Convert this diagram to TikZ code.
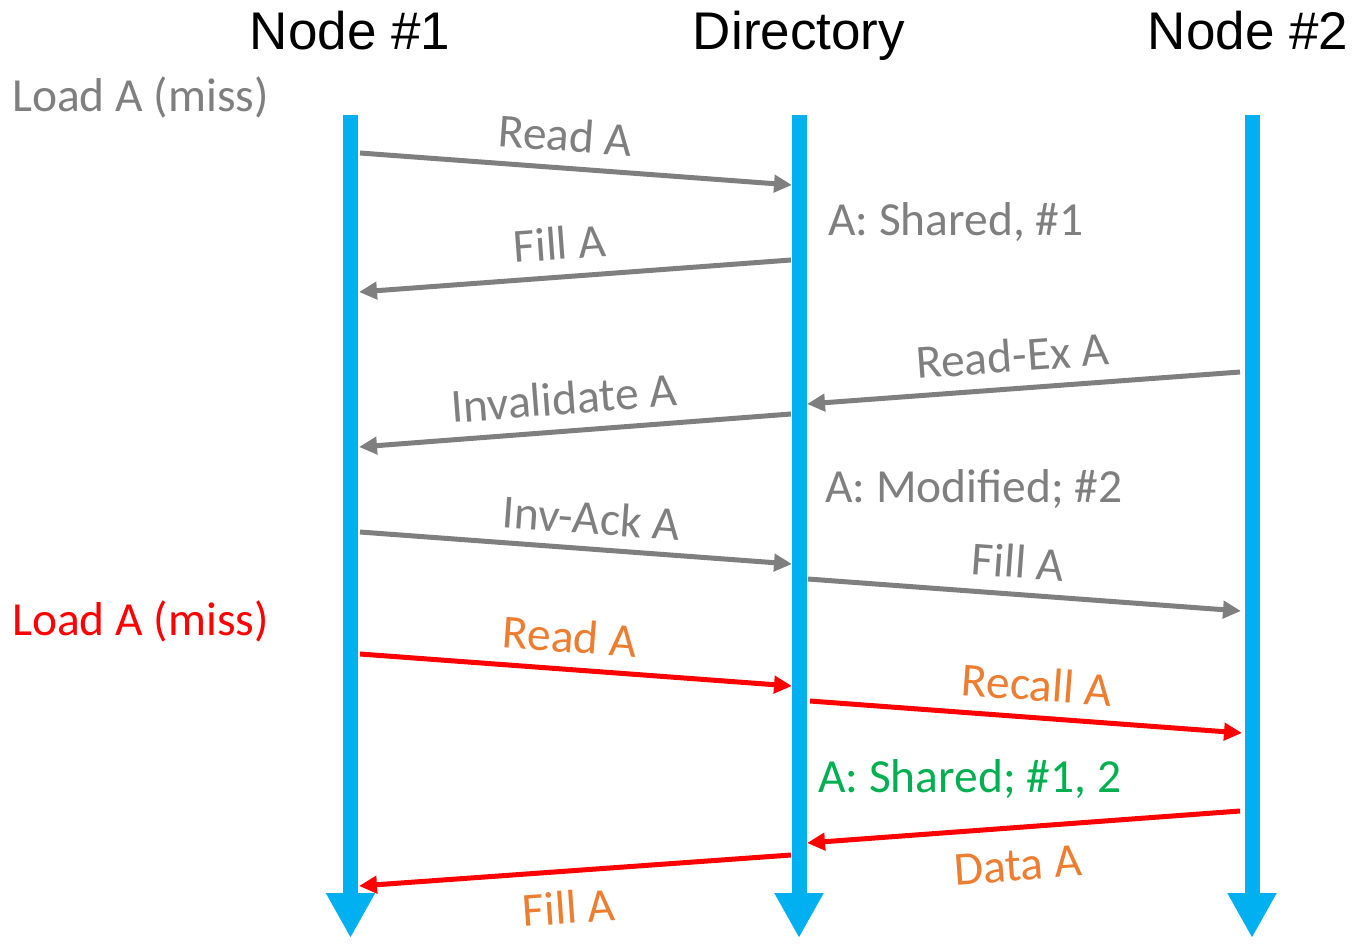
\documentclass[tikz,border=0pt]{standalone}
\usepackage{fontspec}
\setmainfont{Carlito}
\newfontfamily\titlefont{Liberation Sans}
\usetikzlibrary{arrows.meta}
\definecolor{lineblue}{HTML}{00B0F0}
\definecolor{msggray}{HTML}{7F7F7F}
\definecolor{msgred}{HTML}{FF0000}
\definecolor{msgorange}{HTML}{ED7D31}
\definecolor{stategreen}{HTML}{00B050}
\begin{document}
\begin{tikzpicture}[x=1pt,y=-1pt,
  lifeline/.style={draw=lineblue, line width=15pt, -{Triangle[length=45pt,width=46pt]}},
  msg/.style={line width=5pt, -{Triangle[length=18pt,width=17pt]}},
  graymsg/.style={msg, draw=msggray},
  redmsg/.style={msg, draw=msgred},
  body/.style={font=\fontsize{47.5}{54}\selectfont, inner sep=0pt},
  lbl/.style={body, sloped},
  graylbl/.style={lbl, text=msggray},
  orangelbl/.style={lbl, text=msgorange},
  heading/.style={font=\titlefont\fontsize{53}{60}\selectfont, inner sep=0pt, anchor=base},
  note/.style={body, anchor=base west}]
\useasboundingbox (0,0) rectangle (1364,944);

% column headings
\node[heading] (h1) at (350,50) {Node \#1};
\node[heading] (hd) at (799,50) {Directory};
\node[heading] (h2) at (1248,50) {Node \#2};

% time lines
\coordinate (n1top) at (350.5,115);
\coordinate (n1bot) at (350.5,938);
\coordinate (dtop) at (799,115);
\coordinate (dbot) at (799,938);
\coordinate (n2top) at (1252,115);
\coordinate (n2bot) at (1252,938);
\draw[lifeline] (n1top) -- (n1bot);
\draw[lifeline] (dtop) -- (dbot);
\draw[lifeline] (n2top) -- (n2bot);

% side notes
\node[note, text=msggray] (load1) at (12,112) {Load A (miss)};
\node[note, text=msgred] (load2) at (12,635) {Load A (miss)};
\node[note, text=msggray] (st1) at (828,235) {A: Shared, \#1};
\node[note, text=msggray] (st2) at (825,502) {A: Modified; \#2};
\node[note, text=stategreen] (st3) at (818,792) {A: Shared; \#1, 2};

% message end points
\coordinate (m1s) at (360,153);   \coordinate (m1e) at (792,185);
\coordinate (m2s) at (791,260);   \coordinate (m2e) at (359,292);
\coordinate (m3s) at (1240,372);  \coordinate (m3e) at (807,404);
\coordinate (m4s) at (791,414);   \coordinate (m4e) at (359,447);
\coordinate (m5s) at (360,532);   \coordinate (m5e) at (792,564);
\coordinate (m6s) at (808,579);   \coordinate (m6e) at (1241,611);
\coordinate (m7s) at (360,654);   \coordinate (m7e) at (792,686);
\coordinate (m8s) at (810,701);   \coordinate (m8e) at (1242,733);
\coordinate (m9s) at (1240,811);  \coordinate (m9e) at (807,843);
\coordinate (m10s) at (791,855);  \coordinate (m10e) at (359,886);

% first load: shared copy
\draw[graymsg] (m1s) -- node[graylbl, above=14pt, pos=.47] {Read A} (m1e);
\draw[graymsg] (m2s) -- node[graylbl, above=15pt, pos=.53] {Fill A} (m2e);

% node 2 takes exclusive ownership
\draw[graymsg] (m3s) -- node[graylbl, above=14pt, pos=.52] {Read-Ex A} (m3e);
\draw[graymsg] (m4s) -- node[graylbl, above=14pt, pos=.52] {Invalidate A} (m4e);
\draw[graymsg] (m5s) -- node[graylbl, above=12pt, pos=.53] {Inv-Ack A} (m5e);
\draw[graymsg] (m6s) -- node[graylbl, above=14pt, pos=.48] {Fill A} (m6e);

% second load: recall from node 2
\draw[redmsg] (m7s) -- node[orangelbl, above=14pt, pos=.48] {Read A} (m7e);
\draw[redmsg] (m8s) -- node[orangelbl, above=14pt, pos=.52] {Recall A} (m8e);
\draw[redmsg] (m9s) -- node[orangelbl, below=20pt, pos=.52] {Data A} (m9e);
\draw[redmsg] (m10s) -- node[orangelbl, below=17pt, pos=.52] {Fill A} (m10e);
\end{tikzpicture}
\end{document}
